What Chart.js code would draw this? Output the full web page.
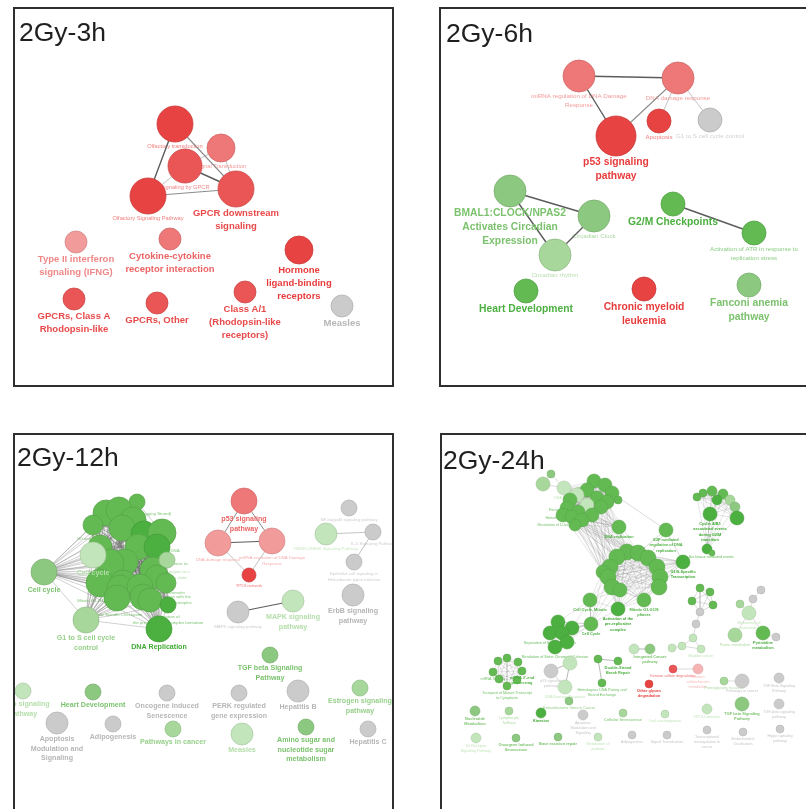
<!DOCTYPE html>
<html>
<head>
<meta charset="utf-8">
<title>Enriched pathway networks after 2 Gy</title>
<script src="https://cdn.jsdelivr.net/npm/chart.js@4.4.1/dist/chart.umd.min.js"></script>
<style>
  html, body { margin: 0; padding: 0; background: #ffffff; width: 806px; height: 809px; overflow: hidden; }
  .panel { position: absolute; overflow: hidden; }
  .panel canvas { position: absolute; left: 0; top: 0; }
  .frame { position: absolute; left: 0; top: 0; right: 0; bottom: 0; box-sizing: border-box; border: 2px solid #2f2f2f; pointer-events: none; }
</style>
</head>
<body>
<script>
// ---- Network data -------------------------------------------------------
// Node rows: id, term label, layout x, layout y, node size, trend (up / dn / ns), enrichment level 0-4, label kind (1 = headline term)

const nodes3h = [
  ['olf',   'Olfactory transduction', 162, 117, 18, 'up', 4, 0],
  ['sig',   'Signal Transduction', 208, 141, 14, 'up', 2, 0],
  ['gpcr',  'Signaling by GPCR', 172, 159, 17, 'up', 3, 0],
  ['osp',   'Olfactory Signaling Pathway', 135, 189, 18, 'up', 4, 0],
  ['down',  'GPCR downstream\nsignaling', 223, 182, 18, 'up', 3, 1],
  ['ifng',  'Type II interferon\nsignaling (IFNG)', 63, 235, 11, 'up', 1, 1],
  ['cyto',  'Cytokine-cytokine\nreceptor interaction', 157, 232, 11, 'up', 2, 1],
  ['horm',  'Hormone\nligand-binding\nreceptors', 286, 243, 14, 'up', 4, 1],
  ['clsA',  'GPCRs, Class A\nRhodopsin-like', 61, 292, 11, 'up', 3, 1],
  ['other', 'GPCRs, Other', 144, 296, 11, 'up', 3, 1],
  ['a1',    'Class A/1\n(Rhodopsin-like\nreceptors)', 232, 285, 11, 'up', 3, 1],
  ['meas',  'Measles', 329, 299, 11, 'ns', 0, 1]
];
const links3h = [
  ['olf', 'osp', 1], ['olf', 'down', 2], ['gpcr', 'down', 1], ['osp', 'down', 2],
  ['gpcr', 'osp', 3], ['sig', 'down', 3], ['sig', 'gpcr', 3]
];

const nodes6h = [
  ['mir',    'miRNA regulation of DNA Damage\nResponse', 140, 69, 16, 'up', 2, 0],
  ['ddr',    'DNA damage response', 239, 71, 16, 'up', 2, 0],
  ['p53',    'p53 signaling\npathway', 177, 129, 20, 'up', 4, 1],
  ['apo',    'Apoptosis', 220, 114, 12, 'up', 4, 0],
  ['g1s',    'G1 to S cell cycle control', 271, 113, 12, 'ns', 0, 0],
  ['bmal',   'BMAL1:CLOCK/NPAS2\nActivates Circadian\nExpression', 71, 184, 16, 'dn', 2, 1],
  ['clock',  'Circadian Clock', 155, 209, 16, 'dn', 2, 0],
  ['rhythm', 'Circadian rhythm', 116, 248, 16, 'dn', 1, 0],
  ['g2m',    'G2/M Checkpoints', 234, 197, 12, 'dn', 3, 1],
  ['atr',    'Activation of ATR in response to\nreplication stress', 315, 226, 12, 'dn', 3, 0],
  ['heart',  'Heart Development', 87, 284, 12, 'dn', 3, 1],
  ['cml',    'Chronic myeloid\nleukemia', 205, 282, 12, 'up', 4, 1],
  ['fanc',   'Fanconi anemia\npathway', 310, 278, 12, 'dn', 2, 1]
];
const links6h = [
  ['mir', 'ddr', 1], ['mir', 'p53', 1], ['ddr', 'p53', 2], ['ddr', 'apo', 3], ['ddr', 'g1s', 3],
  ['bmal', 'clock', 1], ['bmal', 'rhythm', 1], ['clock', 'rhythm', 1], ['g2m', 'atr', 1]
];

const nodes12h = [
  ['c1',  'Telomere C-strand (Lagging Strand)', 124, 69, 8, 'dn', 3, 0],
  ['c2',  '', 93, 80, 13, 'dn', 3, 0],
  ['c3',  '', 106, 77, 13, 'dn', 3, 0],
  ['c7',  'G0 and Early G1', 80, 92, 10, 'dn', 3, 0],
  ['c4',  '', 120, 87, 13, 'dn', 3, 0],
  ['c8',  '', 109, 95, 13, 'dn', 3, 0],
  ['c5',  '', 131, 101, 13, 'dn', 4, 0],
  ['c6',  'Unwinding of DNA', 149, 100, 14, 'dn', 3, 0],
  ['c26', '', 87, 114, 12, 'dn', 3, 0],
  ['c12', '', 125, 114, 13, 'dn', 3, 0],
  ['c9',  'Activation of ATR in response to', 144, 114, 13, 'dn', 4, 0],
  ['c10', '', 112, 129, 13, 'dn', 3, 0],
  ['c11', '', 97, 130, 14, 'dn', 3, 0],
  ['c23', '', 140, 137, 13, 'dn', 3, 0],
  ['c21', 'Switching of origins to a\npost-replicative state', 154, 127, 8, 'dn', 1, 0],
  ['c16', 'Orc1 removal from chromatin', 144, 144, 12, 'dn', 3, 0],
  ['c13', 'Mitotic G1-G1/S phases', 87, 150, 14, 'dn', 3, 0],
  ['c24', '', 110, 150, 13, 'dn', 3, 0],
  ['c17', 'CDT1 association with the\nCDC6:ORC:origin complex', 153, 150, 10, 'dn', 3, 0],
  ['c14', '', 107, 155, 13, 'dn', 3, 0],
  ['c15', '', 127, 154, 13, 'dn', 3, 0],
  ['c19', '', 130, 164, 13, 'dn', 3, 0],
  ['c18', 'Mitotic Spindle Checkpoint', 104, 165, 13, 'dn', 3, 0],
  ['c22', '', 137, 167, 12, 'dn', 3, 0],
  ['c20', 'Activation of\nthe pre-replicative complex formation', 155, 172, 8, 'dn', 4, 0],
  ['cc',    'Cell cycle', 31, 139, 13, 'dn', 2, 1],
  ['cc2',   'Cell cycle', 80, 122, 13, 'dn', 0, 1],
  ['g1s',   'G1 to S cell cycle\ncontrol', 73, 187, 13, 'dn', 1, 1],
  ['drep',  'DNA Replication', 146, 196, 13, 'dn', 4, 1],
  ['p53',   'p53 signaling\npathway', 231, 68, 13, 'up', 2, 1],
  ['ddr',   'DNA damage response', 205, 110, 13, 'up', 1, 0],
  ['mir',   'miRNA regulation of DNA Damage\nResponse', 259, 108, 13, 'up', 1, 0],
  ['tp53',  'TP53 network', 236, 142, 7, 'up', 4, 0],
  ['nfkb',  'NF-kappaB signaling pathway', 336, 75, 8, 'ns', 0, 0],
  ['rankl', 'RANKL/RANK Signaling Pathway', 313, 101, 11, 'dn', 0, 0],
  ['il5',   'IL-5 Signaling Pathway', 360, 99, 8, 'ns', 0, 0],
  ['epi',   'Epithelial cell signaling in\nHelicobacter pylori infection', 341, 129, 8, 'ns', 0, 0],
  ['erbb',  'ErbB signaling\npathway', 340, 162, 11, 'ns', 0, 1],
  ['mapk1', 'MAPK signaling pathway', 225, 179, 11, 'ns', 0, 0],
  ['mapk2', 'MAPK signaling\npathway', 280, 168, 11, 'dn', 0, 1],
  ['tgfb',  'TGF beta Signaling\nPathway', 257, 222, 8, 'dn', 2, 1],
  ['hippo', 'Hippo signaling\npathway', 10, 258, 8, 'dn', 0, 1],
  ['heart', 'Heart Development', 80, 259, 8, 'dn', 2, 1],
  ['onco',  'Oncogene Induced\nSenescence', 154, 260, 8, 'ns', 0, 1],
  ['perk',  'PERK regulated\ngene expression', 226, 260, 8, 'ns', 0, 1],
  ['hepb',  'Hepatitis B', 285, 258, 11, 'ns', 0, 1],
  ['estr',  'Estrogen signaling\npathway', 347, 255, 8, 'dn', 1, 1],
  ['apom',  'Apoptosis\nModulation and\nSignaling', 44, 290, 11, 'ns', 0, 1],
  ['adipo', 'Adipogenesis', 100, 291, 8, 'ns', 0, 1],
  ['pic',   'Pathways in cancer', 160, 296, 8, 'dn', 1, 1],
  ['meas',  'Measles', 229, 301, 11, 'dn', 0, 1],
  ['amino', 'Amino sugar and\nnucleotide sugar\nmetabolism', 293, 294, 8, 'dn', 2, 1],
  ['hepc',  'Hepatitis C', 355, 296, 8, 'ns', 0, 1]
];
const cellCycleGroup12h = ['c1', 'c2', 'c3', 'c4', 'c5', 'c6', 'c7', 'c8', 'c9', 'c10', 'c11', 'c12', 'c13',
  'c14', 'c15', 'c16', 'c17', 'c18', 'c19', 'c20', 'c21', 'c22', 'c23', 'c24', 'c26', 'cc', 'cc2', 'g1s', 'drep'];
const links12h = [
  ['p53', 'ddr', 2], ['p53', 'mir', 2], ['ddr', 'mir', 1], ['ddr', 'tp53', 3], ['mir', 'tp53', 3],
  ['rankl', 'il5', 3], ['il5', 'epi', 3], ['mapk1', 'mapk2', 1]
];

const nodes24h = [
  ['t1', '', 111, 41, 4, 'dn', 2, 0],
  ['t2', '', 103, 51, 7, 'dn', 1, 0],
  ['t3', 'DNA Repair', 124, 55, 7, 'dn', 0, 0],
  ['t4', '', 139, 59, 5, 'dn', 0, 0],
  ['k1', '', 154, 48, 7, 'dn', 3, 0],
  ['k2', '', 165, 52, 7, 'dn', 3, 0],
  ['k12', '', 147, 57, 7, 'dn', 3, 0],
  ['k3', '', 172, 60, 7, 'dn', 3, 0],
  ['k11', '', 137, 62, 7, 'dn', 0, 0],
  ['k13', '', 157, 65, 7, 'dn', 3, 0],
  ['k10', 'Fanconi Anemia Pathway', 130, 67, 7, 'dn', 3, 0],
  ['k16', '', 178, 67, 4, 'dn', 3, 0],
  ['k4', '', 167, 69, 7, 'dn', 3, 0],
  ['k14', '', 147, 72, 7, 'dn', 0, 0],
  ['k5', '', 161, 74, 7, 'dn', 3, 0],
  ['k9', 'Homology Directed Repair', 127, 75, 7, 'dn', 3, 0],
  ['k15', '', 138, 79, 7, 'dn', 3, 0],
  ['k6', '', 152, 82, 7, 'dn', 3, 0],
  ['k17', 'Resolution of D-loop Structures', 123, 82, 7, 'dn', 3, 0],
  ['k8', '', 132, 84, 7, 'dn', 3, 0],
  ['k7', '', 142, 87, 7, 'dn', 3, 0],
  ['k18', '', 135, 92, 6, 'dn', 3, 0],
  ['drep', 'DNA replication', 179, 94, 7, 'dn', 3, 1],
  ['e2f', 'E2F mediated\nregulation of DNA\nreplication', 226, 97, 7, 'dn', 3, 1],
  ['r2', '', 187, 119, 8, 'dn', 3, 0],
  ['r3', '', 198, 120, 8, 'dn', 3, 0],
  ['r1', '', 177, 124, 8, 'dn', 3, 0],
  ['r4', '', 208, 125, 8, 'dn', 3, 0],
  ['r8', '', 170, 134, 8, 'dn', 3, 0],
  ['r5', '', 217, 134, 8, 'dn', 3, 0],
  ['r12', '', 163, 139, 7, 'dn', 3, 0],
  ['r9', '', 168, 144, 8, 'dn', 3, 0],
  ['r6', '', 220, 144, 8, 'dn', 3, 0],
  ['r10', '', 172, 154, 8, 'dn', 3, 0],
  ['r7', '', 219, 154, 8, 'dn', 3, 0],
  ['r11', '', 180, 157, 7, 'dn', 3, 0],
  ['g1st', 'G1/S-Specific\nTranscription', 243, 129, 7, 'dn', 4, 1],
  ['mit', 'Mitotic G1-G1/S\nphases', 204, 167, 7, 'dn', 3, 1],
  ['act', 'Activation of the\npre-replicative\ncomplex', 178, 176, 7, 'dn', 4, 1],
  ['ccm', 'Cell Cycle, Mitotic', 150, 167, 7, 'dn', 3, 1],
  ['l1', '', 118, 189, 7, 'dn', 4, 0],
  ['l5', '', 132, 195, 7, 'dn', 4, 0],
  ['l2', 'Separation of Sister Chromatids', 110, 200, 7, 'dn', 4, 0],
  ['l6', '', 122, 200, 7, 'dn', 4, 0],
  ['l4', '', 127, 209, 7, 'dn', 4, 0],
  ['l3', 'Resolution of Sister Chromatid Cohesion', 115, 214, 7, 'dn', 4, 0],
  ['cc', 'Cell Cycle', 151, 191, 7, 'dn', 3, 1],
  ['y1', '', 257, 64, 4, 'dn', 3, 0],
  ['y2', '', 263, 60, 4, 'dn', 3, 0],
  ['y3', '', 272, 58, 5, 'dn', 3, 0],
  ['y4', '', 283, 61, 5, 'dn', 3, 0],
  ['y5', '', 290, 67, 5, 'dn', 1, 0],
  ['y8', '', 277, 67, 5, 'dn', 4, 0],
  ['y6', '', 295, 74, 5, 'dn', 2, 0],
  ['y7', '', 297, 85, 7, 'dn', 4, 0],
  ['cyc', 'Cyclin A/B1\nassociated events\nduring G2/M\ntransition', 270, 81, 7, 'dn', 4, 1],
  ['y9', 'Polo-like kinase mediated events', 267, 116, 5, 'dn', 4, 0],
  ['y10', '', 272, 120, 3, 'dn', 3, 0],
  ['s1', '', 260, 155, 4, 'dn', 3, 0],
  ['s2', '', 270, 159, 4, 'dn', 3, 0],
  ['s5', '', 252, 168, 4, 'dn', 3, 0],
  ['s3', '', 273, 172, 4, 'dn', 3, 0],
  ['s4', '', 260, 179, 4, 'ns', 0, 0],
  ['h1', '', 256, 191, 4, 'ns', 0, 0],
  ['h2', '', 253, 205, 4, 'dn', 0, 0],
  ['h3', '', 242, 213, 4, 'dn', 0, 0],
  ['h4', '', 232, 215, 4, 'dn', 0, 0],
  ['h5', 'Bladder cancer', 261, 216, 4, 'dn', 0, 0],
  ['n1', '', 321, 157, 4, 'ns', 0, 0],
  ['n2', '', 313, 166, 4, 'ns', 0, 0],
  ['n3', '', 300, 171, 4, 'dn', 1, 0],
  ['nuc', 'Metabolism of\nnucleotides', 309, 180, 7, 'dn', 0, 0],
  ['n4', 'Purine metabolism', 295, 202, 7, 'dn', 1, 0],
  ['pyr', 'Pyrimidine\nmetabolism', 323, 200, 7, 'dn', 3, 1],
  ['n5', '', 336, 204, 4, 'ns', 0, 0],
  ['i1', '', 194, 216, 5, 'dn', 0, 0],
  ['icp', 'Integrated Cancer\npathway', 210, 216, 5, 'dn', 2, 1],
  ['d1', '', 158, 226, 4, 'dn', 3, 0],
  ['dsb', 'Double-Strand\nBreak Repair', 178, 228, 4, 'dn', 3, 1],
  ['d2', 'Homologous DNA Pairing and\nStrand Exchange', 162, 250, 4, 'dn', 3, 0],
  ['p53', 'p53 signaling\npathway', 111, 238, 7, 'ns', 0, 0],
  ['q1', '', 130, 230, 7, 'dn', 0, 0],
  ['q2', 'DNA Damage Response', 125, 254, 7, 'dn', 0, 0],
  ['q3', 'Retinoblastoma Gene in Cancer', 129, 268, 4, 'dn', 2, 0],
  ['e1', '', 58, 228, 4, 'dn', 3, 0],
  ['e2', '', 67, 225, 4, 'dn', 3, 0],
  ['e3', '', 78, 229, 4, 'dn', 3, 0],
  ['e4', 'mRNA 3\'-end\nprocessing', 82, 238, 4, 'dn', 3, 1],
  ['e5', '', 77, 247, 4, 'dn', 3, 0],
  ['e6', 'Transport of Mature Transcript\nto Cytoplasm', 67, 253, 4, 'dn', 3, 0],
  ['e7', '', 59, 246, 4, 'dn', 3, 0],
  ['e8', 'mRNA Splicing', 53, 239, 4, 'dn', 3, 0],
  ['ks1', 'Keratan sulfate degradation', 233, 236, 4, 'up', 3, 0],
  ['ks2', 'Keratan\nsulfate/keratin\nmetabolism', 258, 236, 5, 'up', 0, 0],
  ['ogd', 'Other glycan\ndegradation', 209, 251, 4, 'up', 4, 1],
  ['pic1', 'Proteoglycans in cancer', 284, 248, 4, 'dn', 1, 0],
  ['pic', 'Pathways in cancer', 302, 248, 7, 'ns', 0, 0],
  ['tgfg', 'TGF Beta Signaling\nPathway', 339, 245, 5, 'ns', 0, 0],
  ['nucm', 'Nucleotide\nMetabolism', 35, 278, 5, 'dn', 2, 1],
  ['lymph', 'Lymphocyte\nTarBase', 69, 278, 4, 'dn', 1, 0],
  ['kin', 'Kinesins', 101, 280, 5, 'dn', 4, 1],
  ['apom', 'Apoptosis\nModulation and\nSignaling', 143, 282, 5, 'ns', 0, 0],
  ['csen', 'Cellular Senescence', 183, 280, 4, 'dn', 1, 1],
  ['viral', 'Viral carcinogenesis', 225, 281, 4, 'dn', 0, 0],
  ['htlv', 'HTLV-I infection', 267, 276, 5, 'dn', 0, 0],
  ['tgfb', 'TGF beta Signaling\nPathway', 302, 271, 7, 'dn', 2, 1],
  ['tgfk', 'TGF-beta signaling\npathway', 339, 271, 5, 'ns', 0, 0],
  ['kit', 'Kit Receptor\nSignaling Pathway', 36, 305, 5, 'dn', 0, 0],
  ['onco', 'Oncogene Induced\nSenescence', 76, 305, 4, 'dn', 2, 1],
  ['ber', 'Base excision repair', 118, 304, 4, 'dn', 2, 1],
  ['mprot', 'Metabolism of\nproteins', 158, 304, 4, 'dn', 0, 0],
  ['adipo', 'Adipogenesis', 192, 302, 4, 'ns', 0, 0],
  ['sigt', 'Signal Transduction', 227, 302, 4, 'ns', 0, 0],
  ['trans', 'Transcriptional\nmisregulation in\ncancer', 267, 297, 4, 'ns', 0, 0],
  ['endo', 'Endochondral\nOssification', 303, 299, 4, 'ns', 0, 0],
  ['hippo', 'Hippo signaling\npathway', 340, 296, 4, 'ns', 0, 0]
];
const repairGroup24h = ['t3', 't4', 'k1', 'k2', 'k3', 'k4', 'k5', 'k6', 'k7', 'k8', 'k9', 'k10', 'k11', 'k12',
  'k13', 'k14', 'k15', 'k16', 'k17', 'k18'];
const replicationGroup24h = ['r1', 'r2', 'r3', 'r4', 'r5', 'r6', 'r7', 'r8', 'r9', 'r10', 'r11', 'r12', 'mit', 'act', 'g1st'];
const mitoticGroup24h = ['l1', 'l2', 'l3', 'l4', 'l5', 'l6', 'cc'];
const cyclinGroup24h = ['y1', 'y2', 'y3', 'y4', 'y5', 'y6', 'y7', 'y8', 'cyc', 'y9'];
const smallGroup24h = ['s1', 's2', 's3', 's4', 's5'];
const rnaGroup24h = ['e1', 'e2', 'e3', 'e4', 'e5', 'e6', 'e7', 'e8'];
const links24h = [
  ['t1', 't2', 3], ['t2', 't3', 3], ['t1', 't3', 3],
  ['k3', 'e2f', 3], ['e2f', 'g1st', 3], ['e2f', 'r4', 3], ['e2f', 'r3', 3], ['drep', 'r2', 3],
  ['drep', 'k5', 4], ['drep', 'k6', 4], ['drep', 'k13', 4],
  ['ccm', 'cc', 2], ['y9', 'y10', 3], ['cyc', 'y9', 3],
  ['s4', 'h1', 3], ['h1', 'h2', 3], ['h2', 'h3', 3], ['h3', 'h4', 3], ['h2', 'h5', 3], ['h3', 'h5', 3],
  ['n1', 'n2', 3], ['n2', 'nuc', 3], ['n3', 'nuc', 3], ['nuc', 'n4', 3], ['nuc', 'pyr', 3], ['pyr', 'n5', 3],
  ['i1', 'icp', 2], ['d1', 'dsb', 2], ['d1', 'd2', 2],
  ['p53', 'q1', 2], ['q1', 'q2', 2], ['p53', 'q2', 3],
  ['ks1', 'ks2', 3], ['pic1', 'pic', 3]
];
const bundles24h = [
  [['k4', 'k5', 'k6', 'k7', 'k8', 'k14', 'k15', 'k17', 'k18'], ['r1', 'r2', 'r3', 'r8', 'r12', 'drep']],
  [['ccm', 'cc'], ['r9', 'r10', 'r11', 'r12', 'act']],
  [['cc', 'ccm'], ['l1', 'l5']]
];

// ---- Styling ------------------------------------------------------------
const FONT = '"Liberation Sans", Arial, Helvetica, sans-serif';
const FILL = {
  up: ['#f6b3b3', '#f29b9b', '#ee7777', '#ea5555', '#e84343'],
  dn: ['#c3e5bb', '#a7d79b', '#8cc880', '#63ba53', '#4cb040'],
  ns: ['#cbcbcb', '#cbcbcb', '#cbcbcb', '#cbcbcb', '#cbcbcb']
};
const TEXT = {
  up: ['#f4a8a8', '#f08888', '#ec6464', '#e84a4a', '#e83c3c'],
  dn: ['#b4deaa', '#98d08c', '#7cc26e', '#4cb040', '#3faa33'],
  ns: ['#b6b6b6', '#b6b6b6', '#b6b6b6', '#b6b6b6', '#b6b6b6']
};

function hexRgb(h) {
  const v = parseInt(h.slice(1), 16);
  return [(v >> 16) & 255, (v >> 8) & 255, v & 255];
}
function mix(a, b, t) {
  const A = hexRgb(a), B = hexRgb(b);
  const c = A.map((v, i) => Math.round(v + (B[i] - v) * t));
  return 'rgb(' + c.join(',') + ')';
}

// Labels: small term names sit beneath the nodes, headline terms are written on top.
const netLabels = {
  id: 'netLabels',
  beforeDatasetsDraw(chart, args, o) { drawLabels(chart, o, false); },
  afterDatasetsDraw(chart, args, o) {
    drawLabels(chart, o, true);
    const ctx = chart.ctx;
    ctx.save();
    ctx.font = '26.5px ' + FONT;
    ctx.fillStyle = '#1f1f1f';
    ctx.textAlign = 'left';
    ctx.textBaseline = 'alphabetic';
    ctx.fillText(o.title, o.titleX, o.titleY);
    ctx.restore();
  }
};

function drawLabels(chart, o, headline) {
  const ctx = chart.ctx;
  const xs = chart.scales.x, ys = chart.scales.y;
  ctx.save();
  ctx.textAlign = 'center';
  ctx.textBaseline = 'middle';
  for (const n of o.nodes) {
    const [id, label, nx, ny, size, trend, level, kind] = n;
    if (!label || (kind === 1) !== headline) continue;
    const fs = headline ? o.major : o.minor;
    ctx.font = (headline ? 'bold ' : '') + fs + 'px ' + FONT;
    const base = TEXT[trend][level];
    ctx.fillStyle = headline ? base : mix(base, '#ffffff', o.fade);
    const px = xs.getPixelForValue(nx);
    const py = ys.getPixelForValue(ny);
    const r = Math.abs(xs.getPixelForValue(nx + size) - px);
    const lh = fs * 1.36;
    const y0 = py + r + fs * 0.5 + o.gap;
    label.split('\n').forEach((t, i) => ctx.fillText(t, px, y0 + i * lh));
  }
  ctx.restore();
}

function expandEdges(nodes, links, cliques, bundles) {
  const idx = new Map(nodes.map(n => [n[0], n]));
  const byWeight = { 1: [], 2: [], 3: [], 4: [] };
  links.forEach(([a, b, w]) => byWeight[w].push([a, b]));
  cliques.forEach(([ids, w]) => {
    for (let i = 0; i < ids.length; i++)
      for (let j = i + 1; j < ids.length; j++) byWeight[w].push([ids[i], ids[j]]);
  });
  bundles.forEach(([A, B, w]) => A.forEach(a => B.forEach(b => byWeight[w].push([a, b]))));
  const out = {};
  Object.keys(byWeight).forEach(w => {
    const pts = [];
    byWeight[w].forEach(([a, b]) => {
      const na = idx.get(a), nb = idx.get(b);
      if (!na || !nb) return;
      pts.push({ x: na[2], y: na[3] }, { x: nb[2], y: nb[3] }, { x: nb[2], y: null });
    });
    out[w] = pts;
  });
  return out;
}

function makePanel(p) {
  const wrap = document.createElement('div');
  wrap.className = 'panel';
  wrap.style.left = p.left + 'px';
  wrap.style.top = p.top + 'px';
  wrap.style.width = p.w + 'px';
  wrap.style.height = p.h + 'px';
  const canvas = document.createElement('canvas');
  canvas.width = p.w;
  canvas.height = p.h;
  canvas.style.width = p.w + 'px';
  canvas.style.height = p.h + 'px';
  wrap.appendChild(canvas);
  const frame = document.createElement('div');
  frame.className = 'frame';
  wrap.appendChild(frame);
  document.body.appendChild(wrap);

  const edges = expandEdges(p.nodes, p.links, p.cliques, p.bundles.map(b => [b[0], b[1], 4]));
  const datasets = [];
  [4, 3, 2, 1].forEach(w => {
    datasets.push({
      data: edges[w],
      showLine: true,
      spanGaps: false,
      borderColor: p.edge[w][0],
      borderWidth: p.edge[w][1],
      pointRadius: 0,
      fill: false,
      order: 2 + w
    });
  });
  datasets.push({
    data: p.nodes.map(n => ({ x: n[2], y: n[3] })),
    pointRadius: p.nodes.map(n => n[4]),
    pointBackgroundColor: p.nodes.map(n => FILL[n[5]][n[6]]),
    pointBorderColor: p.nodes.map(n => mix(FILL[n[5]][n[6]], '#000000', 0.13)),
    pointBorderWidth: p.nodeBorder,
    showLine: false,
    order: 1
  });

  new Chart(canvas, {
    type: 'scatter',
    data: { datasets },
    options: {
      responsive: false,
      animation: false,
      events: [],
      layout: { padding: 0, autoPadding: false },
      scales: {
        x: { type: 'linear', min: 0, max: p.w, display: false },
        y: { type: 'linear', min: 0, max: p.h, reverse: true, display: false }
      },
      plugins: {
        legend: { display: false },
        tooltip: { enabled: false },
        netLabels: {
          nodes: p.nodes, title: p.title, titleX: p.titleX, titleY: p.titleY,
          major: p.major, minor: p.minor, gap: p.gap, fade: p.fade
        }
      }
    },
    plugins: [netLabels]
  });
}

const EDGE_BIG = { 1: ['#5c5c5c', 1.4], 2: ['#8c8c8c', 1.1], 3: ['#b4b4b4', 0.8], 4: ['rgba(110,110,110,0.5)', 0.6] };
const EDGE_SMALL = { 1: ['#6a6a6a', 1.0], 2: ['#9a9a9a', 0.7], 3: ['#bdbdbd', 0.55], 4: ['rgba(115,115,115,0.42)', 0.45] };

makePanel({ title: '2Gy-3h', left: 13, top: 7, w: 381, h: 380, titleX: 6, titleY: 34,
  nodes: nodes3h, links: links3h, cliques: [], bundles: [],
  major: 9.5, minor: 5.7, gap: 1.4, fade: 0.35, nodeBorder: 0.8, edge: EDGE_BIG });

makePanel({ title: '2Gy-6h', left: 439, top: 7, w: 381, h: 380, titleX: 7, titleY: 35,
  nodes: nodes6h, links: links6h, cliques: [], bundles: [],
  major: 10.3, minor: 6.2, gap: 1.4, fade: 0.35, nodeBorder: 0.8, edge: EDGE_BIG });

makePanel({ title: '2Gy-12h', left: 13, top: 433, w: 381, h: 390, titleX: 4, titleY: 33,
  nodes: nodes12h, links: links12h, cliques: [[cellCycleGroup12h, 4]], bundles: [],
  major: 7.1, minor: 4.3, gap: 1.4, fade: 0.3, nodeBorder: 0.7,
  edge: { 1: ['#5c5c5c', 1.2], 2: ['#8c8c8c', 1.0], 3: ['#b4b4b4', 0.8], 4: ['rgba(100,100,100,0.5)', 0.6] } });

makePanel({ title: '2Gy-24h', left: 440, top: 433, w: 381, h: 390, titleX: 3, titleY: 36,
  nodes: nodes24h, links: links24h,
  cliques: [[repairGroup24h, 4], [replicationGroup24h, 4], [mitoticGroup24h, 4], [cyclinGroup24h, 4],
            [smallGroup24h, 3], [rnaGroup24h, 4]],
  bundles: bundles24h,
  major: 3.9, minor: 3.7, gap: 1.0, fade: 0.2, nodeBorder: 0.5, edge: EDGE_SMALL });
</script>
</body>
</html>
